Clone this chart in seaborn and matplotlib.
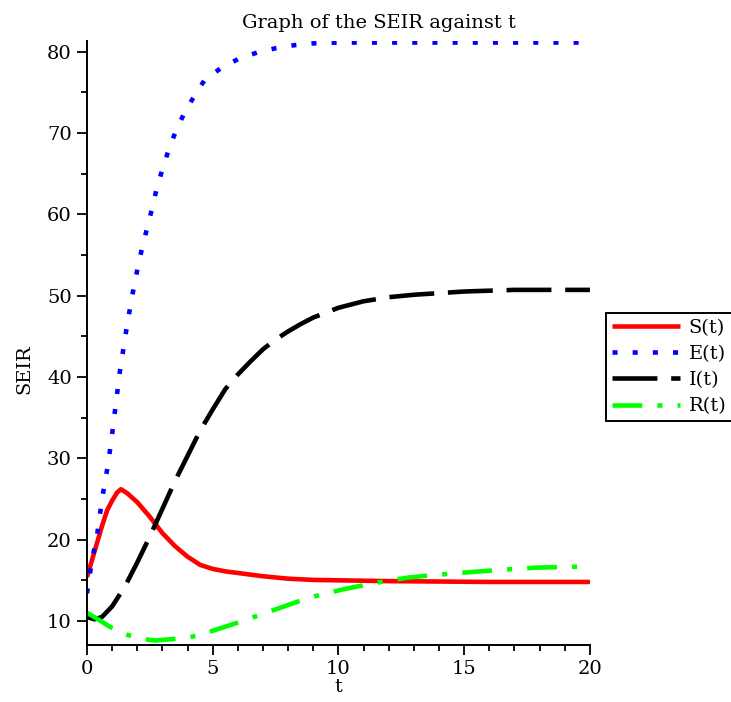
import numpy as np
import pandas as pd
import matplotlib
matplotlib.use("Agg")
import matplotlib.pyplot as plt
import seaborn as sns
from matplotlib.ticker import MultipleLocator

# values
s_t = [0, 0.2, 0.4, 0.6, 0.8, 1.0, 1.2, 1.35, 1.6, 2.0, 2.5, 3.0, 3.5, 4.0, 4.5,
       5.0, 5.5, 6.0, 7.0, 8.0, 9.0, 10, 12, 14, 16, 18, 20]
s_val = [15.4, 17.5, 19.6, 21.7, 23.6, 24.8, 25.8, 26.2, 25.7, 24.6, 22.8, 20.8, 19.2,
         17.9, 16.9, 16.4, 16.1, 15.9, 15.5, 15.2, 15.05, 15.0, 14.9, 14.85, 14.8, 14.8, 14.8]

e_t = [0, 0.2, 0.4, 0.6, 0.85, 1.0, 1.3, 1.6, 1.9, 2.2, 2.5, 2.8, 3.1, 3.3, 3.6, 3.9,
       4.3, 4.7, 5.4, 6.1, 6.8, 7.5, 8.3, 9, 10, 12, 15, 20]
e_val = [13.4, 17.5, 20.5, 25.0, 29.5, 33.0, 40.5, 46.5, 51.7, 56.0, 59.6, 63.5, 66.5,
         68.4, 70.7, 72.6, 74.7, 76.6, 78.1, 79.2, 79.9, 80.4, 80.8, 81.0, 81.1, 81.1, 81.1, 81.1]

i_t = [0, 0.3, 0.6, 1.0, 1.5, 2.0, 2.5, 3.0, 3.5, 4.0, 4.5, 5.0, 5.5, 6.0, 6.5, 7.0,
       7.5, 8.0, 8.5, 9.0, 9.5, 10, 11, 12, 13, 14, 15, 16, 17, 18, 20]
i_val = [10.5, 10.2, 10.5, 11.8, 14.2, 17.2, 20.4, 23.8, 27.2, 30.3, 33.4, 36.0, 38.5,
         40.3, 41.9, 43.4, 44.6, 45.6, 46.5, 47.3, 47.9, 48.5, 49.3, 49.8, 50.1, 50.3,
         50.5, 50.6, 50.7, 50.7, 50.7]

r_t = [0, 0.5, 0.9, 1.6, 2.2, 2.7, 3.3, 4.0, 4.5, 5.0, 5.5, 6.0, 6.6, 7.2, 7.8, 8.4,
       9.0, 10.2, 11.5, 12.8, 14, 15.2, 16.5, 17.8, 19, 20]
r_val = [11.0, 10.1, 9.3, 8.3, 7.8, 7.6, 7.75, 7.95, 8.3, 8.8, 9.3, 9.8, 10.45, 11.1,
         11.75, 12.4, 13.0, 13.9, 14.7, 15.35, 15.7, 16.0, 16.3, 16.55, 16.65, 16.7]

labels = ["S(t)", "E(t)", "I(t)", "R(t)"]
colors = ["#ff0000", "#0000ff", "#000000", "#00ff00"]
styles = ["-", (0, (1.1, 3.3)), (0, (9.8, 3.0)), (0, (6.5, 3.3, 1.1, 3.3))]
widths = [3.3, 3.3, 3.3, 3.3]

sns.set_style("ticks")
plt.rcParams["font.family"] = ["DejaVu Serif"]
plt.rcParams["text.color"] = "black"
plt.rcParams["axes.labelcolor"] = "black"
FS = 14

fig = plt.figure(figsize=(7.31, 7.02), dpi=100)
ax = fig.add_axes([0.119, 0.0812, 0.688, 0.8605])

series = [(s_t, s_val), (e_t, e_val), (i_t, i_val), (r_t, r_val)]
for (t, v), lab, c, ls, lw in zip(series, labels, colors, styles, widths):
    df = pd.DataFrame({"t": t, "v": v})
    sns.lineplot(data=df, x="t", y="v", ax=ax, color=c, linestyle=ls,
                 linewidth=lw, label=lab, solid_capstyle="butt", dash_capstyle="butt")

ax.set_xlim(0, 20)
ax.set_ylim(7.05, 81.3)
ax.xaxis.set_major_locator(MultipleLocator(5))
ax.xaxis.set_minor_locator(MultipleLocator(1))
ax.yaxis.set_major_locator(MultipleLocator(10))
ax.yaxis.set_minor_locator(MultipleLocator(5))
ax.set_yticks(range(10, 81, 10))
ax.tick_params(which="major", direction="out", length=7, width=1.3,
               labelsize=FS, pad=4, color="black", labelcolor="black")
ax.tick_params(which="minor", direction="out", length=4, width=1.3, color="black")
sns.despine(ax=ax)
for sp in ["left", "bottom"]:
    ax.spines[sp].set_linewidth(1.4)
    ax.spines[sp].set_color("black")

ax.set_xlabel("t", fontsize=FS, labelpad=0)
ax.set_ylabel("SEIR", fontsize=FS)
ax.yaxis.set_label_coords(-0.107, 0.457)
fig.text(0.518, 0.960, "Graph of the SEIR against t", ha="center", va="baseline",
         fontsize=FS, color="black")

handles, labs = ax.get_legend_handles_labels()
ax.get_legend().remove()
leg = fig.legend(handles, labs, loc="upper left", bbox_to_anchor=(0.829, 0.554),
                 fontsize=FS, handlelength=3.5, handletextpad=0.45,
                 labelspacing=0.42, borderpad=0.3, borderaxespad=0,
                 fancybox=False, framealpha=1)
leg.get_frame().set_edgecolor("black")
leg.get_frame().set_linewidth(1.4)
for txt in leg.get_texts():
    txt.set_color("black")

fig.savefig("out.png", dpi=100)
